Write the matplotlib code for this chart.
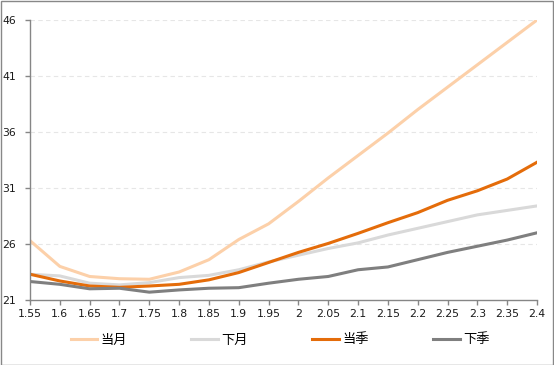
import numpy as np
import matplotlib.pyplot as plt
from matplotlib.patches import Rectangle

strikes = ['1.55', '1.6', '1.65', '1.7', '1.75', '1.8', '1.85', '1.9', '1.95',
           '2', '2.05', '2.1', '2.15', '2.2', '2.25', '2.3', '2.35', '2.4']

cur_month = [26.3, 24.0, 23.1, 22.9, 22.85, 23.5, 24.6, 26.4, 27.8,
             29.8, 31.9, 33.9, 35.9, 38.0, 40.0, 42.0, 44.0, 46.0]
next_month = [23.3, 23.15, 22.5, 22.35, 22.55, 23.0, 23.2, 23.7, 24.4,
              25.0, 25.6, 26.1, 26.8, 27.4, 28.0, 28.6, 29.0, 29.4]
cur_quarter = [23.3, 22.7, 22.25, 22.13, 22.25, 22.4, 22.8, 23.45, 24.35,
               25.25, 26.05, 26.95, 27.9, 28.8, 29.9, 30.75, 31.8, 33.3]
next_quarter = [22.65, 22.4, 22.0, 22.05, 21.7, 21.9, 22.05, 22.1, 22.5,
                22.85, 23.1, 23.7, 23.95, 24.6, 25.25, 25.8, 26.35, 27.0]

series = [
    ('当月', cur_month, '#FCD0A9'),
    ('下月', next_month, '#D9D9D9'),
    ('当季', cur_quarter, '#E46C0A'),
    ('下季', next_quarter, '#7F7F7F'),
]

W, H = 554, 365
fig = plt.figure(figsize=(W / 100, H / 100), dpi=100)
ax = fig.add_axes([30 / W, 1 - 300 / H, (537 - 30) / W, (300 - 20) / H])

x = np.arange(len(strikes))
lines = []
for name, vals, col in series:
    ln, = ax.plot(x, vals, color=col, lw=2.2, label=name, solid_joinstyle='round')
    lines.append(ln)

ax.set_xlim(0, len(strikes) - 1)
ax.set_ylim(21, 46)
ax.set_yticks([21, 26, 31, 36, 41, 46])
ax.set_xticks(x)
ax.set_xticklabels(strikes)

for y in [26, 31, 36, 41, 46]:
    ax.axhline(y, color='#E6E6E6', lw=0.8, ls=(0, (4, 3)), zorder=0)

for s in ['top', 'right']:
    ax.spines[s].set_visible(False)
for s in ['left', 'bottom']:
    ax.spines[s].set_color('#868686')
    ax.spines[s].set_linewidth(1.0)
ax.tick_params(axis='x', direction='out', length=3.5, width=1.0, color='#868686',
               labelsize=7.8, pad=3.0, labelcolor='#1a1a1a')
ax.tick_params(axis='y', direction='out', length=3.5, width=1.0, color='#868686',
               labelsize=7.8, labelcolor='#1a1a1a')
for lab in ax.get_yticklabels():
    lab.set_horizontalalignment('left')
    lab.set_x(-28 / (537 - 30))
    lab.set_transform(ax.get_yaxis_transform())

fig.legend(handles=lines, loc='center', bbox_to_anchor=(280 / W, 1 - 340 / H),
           ncol=4, frameon=False, handlelength=2.0, handletextpad=0.25,
           columnspacing=4.9, prop={'family': ['Noto Sans CJK SC', 'DejaVu Sans'], 'size': 9.5})

fig.patches.append(Rectangle((0.5 / W, 0.5 / H), 1 - 1.5 / W, 1 - 1.5 / H,
                             transform=fig.transFigure, fill=False,
                             edgecolor='#888888', lw=1.0))

fig.savefig('out.png', dpi=100)
